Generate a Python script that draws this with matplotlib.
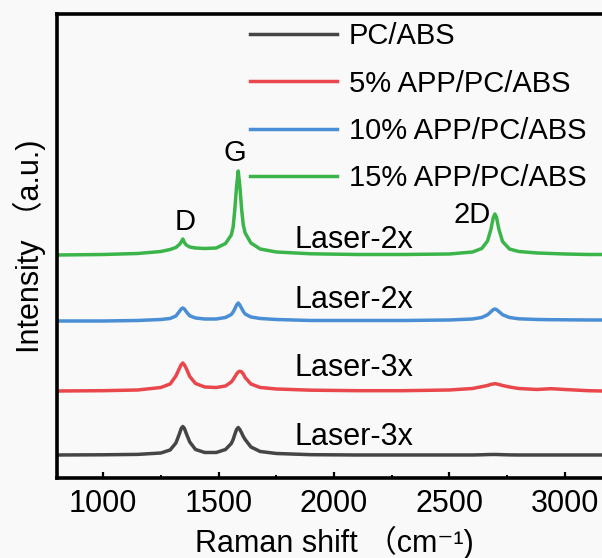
import matplotlib
matplotlib.use("Agg")
import matplotlib.pyplot as plt
from matplotlib.ticker import MultipleLocator, AutoMinorLocator

plt.rcParams['font.family'] = ['Liberation Sans', 'Noto Sans CJK SC', 'DejaVu Sans']

# Raman shift (cm-1) where the curves were read
shift = [800, 1000, 1150, 1250, 1290, 1315, 1330, 1338, 1345, 1352, 1360, 1375, 1400,
         1440, 1490, 1530, 1555, 1563, 1570, 1578, 1585, 1592, 1600, 1607, 1615, 1640,
         1680, 1750, 1900, 2100, 2300, 2500, 2600, 2640, 2665, 2680, 2690, 2697, 2704,
         2714, 2730, 2760, 2800, 2880, 2940, 3000, 3100, 3200]

# stacked intensities (a.u., offsets included)
pc_abs = [23, 23.2, 23.6, 25, 28, 35, 44, 49.5, 51.5, 49.5, 44.5, 36, 28.5,
          25.5, 25.5, 28.5, 34.5, 38.5, 43.5, 48.5, 50.5, 48.5, 45, 41.5, 38.5, 31,
          26.5, 24.5, 23.3, 23, 23, 23, 23, 23.2, 23.4, 23.5, 23.5, 23.5, 23.5,
          23.4, 23.3, 23.1, 23, 23, 23, 23, 23, 23]
app5 = [87, 87.3, 88, 90.5, 94, 102, 109.5, 113.3, 115, 113, 109.5, 101.5, 94.5,
        91, 90.5, 92, 96, 98.5, 101, 104, 106, 106.8, 106, 104, 100.5, 94,
        90.5, 89, 87.8, 87.3, 87.3, 88, 89.5, 91.3, 92.5, 93.6, 94, 94.3, 94,
        93.5, 92.5, 91, 89.5, 88.5, 89.3, 88.5, 87.3, 86.8]
app10 = [157, 157, 157.5, 158.5, 159.5, 162, 166.5, 169, 170, 169, 166.3, 162.2, 160,
         159, 159, 160.5, 163.5, 166, 169, 173, 175, 173, 169.5, 166.5, 164, 161,
         159.5, 158.5, 157.5, 157.5, 157.5, 158, 159, 160.5, 163.2, 166.3, 168.4, 169, 168.4,
         166.5, 163.3, 160.5, 159.2, 158.5, 158.3, 158.2, 158, 158]
app15 = [223, 223.5, 224.5, 226.5, 228.5, 230.5, 233.5, 236, 239, 235.5, 233, 231, 230,
         229.5, 230, 234.5, 243, 251, 268, 292, 307, 292, 268, 253, 245, 235,
         229, 226, 224.2, 223.5, 223.5, 224, 226, 229.5, 237, 249, 260.5, 264, 260.5,
         249, 236.5, 229, 226.5, 225, 224.5, 224, 223.5, 223.5]

series = [pc_abs, app5, app10, app15]
names = ['PC/ABS', '5% APP/PC/ABS', '10% APP/PC/ABS', '15% APP/PC/ABS']
colors = ['#454545', '#e9474b', '#4a8fd6', '#3bb54a']
laser = ['Laser-3x', 'Laser-3x', 'Laser-2x', 'Laser-2x']
laser_y = [41, 110, 178, 238]

fig = plt.figure(figsize=(6.02, 5.58), dpi=100)
fig.patch.set_facecolor('#f9f9f9')
ax = fig.add_axes([0.0947, 0.1434, 0.9203, 0.8315])
ax.set_facecolor('#f9f9f9')

for ys, nm, c in zip(series, names, colors):
    ax.plot(shift, ys, color=c, lw=2.5, label=nm)

for txt, y, c in zip(laser, laser_y, colors):
    ax.text(1830, y, txt, fontsize=22, va='center', ha='left')

ax.text(1356, 256, 'D', fontsize=21, ha='center', va='center')
ax.text(1569, 325, 'G', fontsize=21, ha='center', va='center')
ax.text(2599, 263, '2D', fontsize=21, ha='center', va='center')

ax.set_xlim(800, 3200)
ax.set_ylim(0, 464)
ax.xaxis.set_major_locator(MultipleLocator(500))
ax.xaxis.set_minor_locator(AutoMinorLocator(2))
ax.set_yticks([])
ax.tick_params(axis='x', which='major', direction='in', length=4, width=1.6,
               labelsize=22, pad=8)
ax.tick_params(axis='x', which='minor', direction='in', length=2, width=1.4)
for s in ax.spines.values():
    s.set_linewidth(2.6)

ax.set_xlabel('Raman shift （cm⁻¹)', fontsize=22, labelpad=5)
ax.set_ylabel('Intensity （a.u.)', fontsize=22, labelpad=8)

ax.legend(loc='upper left', bbox_to_anchor=(0.415, 0.96), bbox_transform=fig.transFigure,
          frameon=False, fontsize=21, handlelength=3.0, handletextpad=0.4,
          labelspacing=0.66, borderpad=0, borderaxespad=0)

fig.savefig('out.png', dpi=100, facecolor=fig.get_facecolor())
